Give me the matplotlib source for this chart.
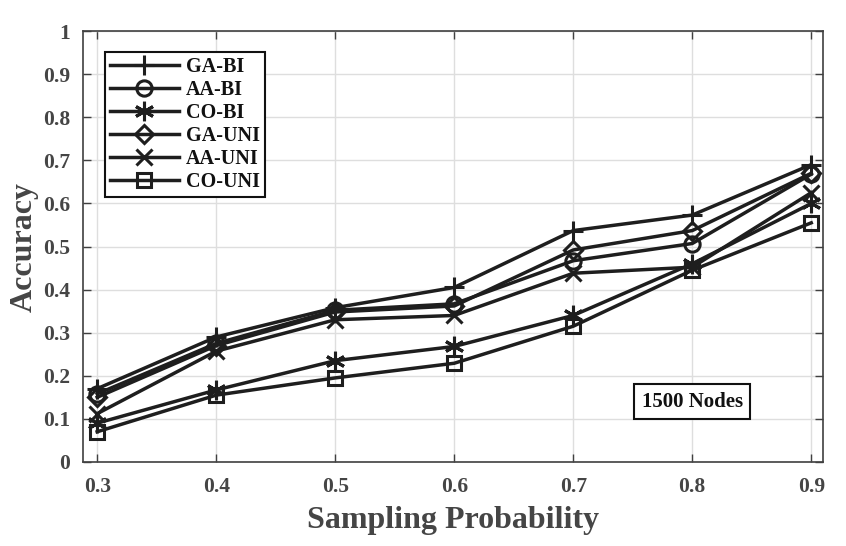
import matplotlib
matplotlib.use('Agg')
import matplotlib.pyplot as plt
import numpy as np

# sampling probabilities on the x axis
probs = [0.3, 0.4, 0.5, 0.6, 0.7, 0.8, 0.9]

ga_bi = [0.170, 0.290, 0.358, 0.405, 0.537, 0.573, 0.690]
aa_bi = [0.158, 0.275, 0.352, 0.367, 0.467, 0.507, 0.668]
co_bi = [0.090, 0.167, 0.235, 0.268, 0.340, 0.460, 0.600]
ga_uni = [0.150, 0.270, 0.348, 0.362, 0.492, 0.537, 0.670]
aa_uni = [0.112, 0.257, 0.330, 0.340, 0.438, 0.452, 0.625]
co_uni = [0.070, 0.155, 0.195, 0.229, 0.315, 0.445, 0.555]

names = ['GA-BI', 'AA-BI', 'CO-BI', 'GA-UNI', 'AA-UNI', 'CO-UNI']
# matlab style markers: + o * d x s  (asterisk made as 6-arm star)
markers = ['+', 'o', (6, 2, 0), 'D', 'x', 's']
sizes = [14, 11, 14, 9, 11, 9.5]

yticks = [0, 0.1, 0.2, 0.3, 0.4, 0.5, 0.6, 0.7, 0.8, 0.9, 1]
ytick_labels = ['0', '0.1', '0.2', '0.3', '0.4', '0.5', '0.6', '0.7', '0.8', '0.9', '1']

plt.rcParams['font.family'] = ['Liberation Serif', 'DejaVu Serif']
plt.rcParams['font.weight'] = 'bold'

fig = plt.figure(figsize=(8.46, 5.46), dpi=100)
ax = fig.add_axes([0.098, 0.154, 0.875, 0.789])

line_col = '#1e1e1e'
label_col = '#454545'

all_series = [ga_bi, aa_bi, co_bi, ga_uni, aa_uni, co_uni]
for vals, name, mk, ms in zip(all_series, names, markers, sizes):
    ax.plot(probs, vals, color=line_col, linewidth=2.5, marker=mk,
            markersize=ms, markerfacecolor='none', markeredgecolor=line_col,
            markeredgewidth=2.2, label=name)

ax.set_xlim(0.288, 0.910)
ax.set_ylim(0, 1)
ax.set_xticks(probs)
ax.set_yticks(yticks)
ax.set_yticklabels(ytick_labels)

ax.grid(True, color='#dedede', linewidth=1)
ax.set_axisbelow(True)
ax.tick_params(direction='in', length=6, width=1, top=True, right=True,
               labelsize=15.5, labelcolor=label_col, color='#404040')
ax.tick_params(axis='x', pad=11)
ax.tick_params(axis='y', pad=9)
for s in ax.spines.values():
    s.set_linewidth(1.2)
    s.set_color('#404040')

ax.set_xlabel('Sampling Probability', fontsize=23, fontweight='bold',
              color=label_col, labelpad=6)
ax.set_ylabel('Accuracy', fontsize=23, fontweight='bold',
              color=label_col, labelpad=3)

leg = ax.legend(loc='upper left', bbox_to_anchor=(0.03, 0.952), fontsize=14.5,
                handlelength=3.4, labelspacing=0.15, handletextpad=0.35,
                borderpad=0.25, borderaxespad=0, fancybox=False, framealpha=1,
                edgecolor='#111111')
leg.get_frame().set_linewidth(1.5)
for t in leg.get_texts():
    t.set_color('#111111')

ax.text(0.8, 0.14, '1500 Nodes', fontsize=15, fontweight='bold',
        ha='center', va='center', color='#111111',
        bbox=dict(boxstyle='square,pad=0.35', facecolor='white',
                  edgecolor='#111111', linewidth=1.5))

fig.savefig('out.png', dpi=100)
